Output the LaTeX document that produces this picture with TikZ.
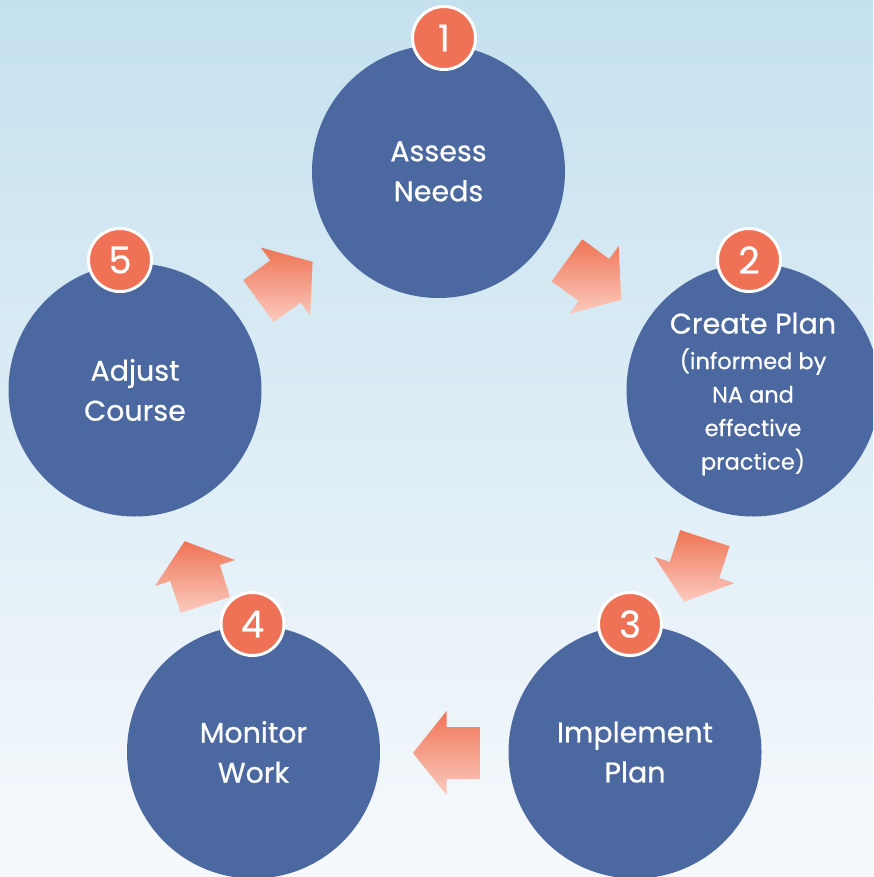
\documentclass[tikz,border=0pt]{standalone}
\usepackage{fontspec}
\setmainfont{Poppins}
\newfontfamily\stagefont{Poppins}[FakeBold=0.6]
\usetikzlibrary{calc}

\definecolor{bgtop}{HTML}{C5E1EF}
\definecolor{bgbot}{HTML}{F6F9FC}
\definecolor{stepblue}{HTML}{4B68A0}
\definecolor{badgeorange}{HTML}{EF7156}
\definecolor{arrowdark}{HTML}{EF7455}
\definecolor{arrowlight}{HTML}{FBCBBF}

\newcommand{\bigline}{\fontsize{28.5}{40}\selectfont}
\newcommand{\smallline}{\fontsize{22.5}{33.5}\selectfont}

\tikzset{
  stage/.style={circle, fill=stepblue, minimum size=253pt, inner sep=0pt,
    text=white, align=center, font=\stagefont\bigline},
  stagetext/.style={text=white, align=center, inner sep=0pt,
    font=\stagefont\smallline},
  badge/.style={circle, fill=badgeorange, draw=white, line width=3pt,
    minimum size=63pt, inner sep=0pt, text=white,
    font=\stagefont\fontsize{37}{37}\selectfont},
  flowarrow/.style={top color=arrowdark, bottom color=arrowlight, draw=none},
}

% block arrow centred on #1, pointing in direction #2
\newcommand{\blockarrow}[2]{%
  \shade[flowarrow]
    ($(#1)+(#2:33.5)$) --
    ($(#1)+(#2+90:42)$) --
    ($(#1)+(#2+90:26)$) --
    ($(#1)+(#2+142.2:42.4)$) --
    ($(#1)+(#2-142.2:42.4)$) --
    ($(#1)+(#2-90:26)$) --
    ($(#1)+(#2-90:42)$) -- cycle;}

\begin{document}
\begin{tikzpicture}[x=1pt, y=-1pt]
  \useasboundingbox (0,0) rectangle (873,877);
  \clip (0,0) rectangle (873,877);
  \shade[top color=bgtop, bottom color=bgbot] (0,0) rectangle (873,877);

  % the five stages of the cycle
  \node[stage] (assess)    at (438.5,171.5) {Assess\\Needs};
  \node[stage] (plan)      at (753,390) {};
  \node[stagetext] (plantext) at ($(plan.center)+(0,4)$)
    {{\bigline Create Plan}\\[2pt]
     (informed by\\NA and\\effective\\practice)};
  \node[stage] (implement) at (635,752) {Implement\\Plan};
  \node[stage] (monitor)   at (253.5,752) {Monitor\\Work};
  \node[stage] (adjust)    at (135,390) {Adjust\\Course};

  % step numbers
  \node[badge] (n1) at (444,38)    {1};
  \node[badge] (n2) at (749,260)   {2};
  \node[badge] (n3) at (630,624)   {3};
  \node[badge] (n4) at (252.5,624) {4};
  \node[badge] (n5) at (120,260)   {5};

  % arrows between the stages
  \coordinate (a12) at (594,280);
  \coordinate (a23) at (694.5,570);
  \coordinate (a34) at (446.5,753);
  \coordinate (a45) at (195,573);
  \coordinate (a51) at (285.5,281.5);
  \blockarrow{a12}{36}
  \blockarrow{a23}{108}
  \blockarrow{a34}{180}
  \blockarrow{a45}{-108}
  \blockarrow{a51}{-36}
\end{tikzpicture}
\end{document}
